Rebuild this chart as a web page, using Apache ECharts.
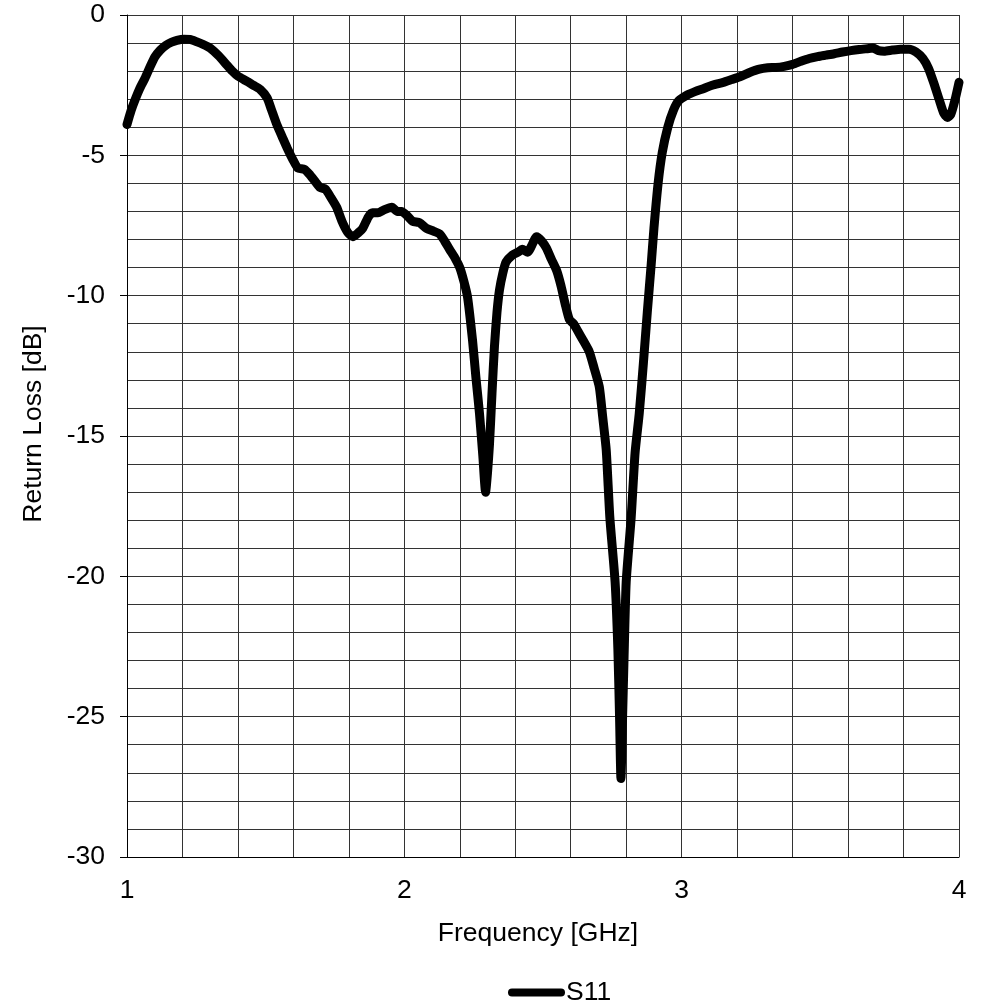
<!DOCTYPE html>
<html>
<head>
<meta charset="utf-8">
<script src="https://cdn.jsdelivr.net/npm/echarts@6/dist/echarts.min.js"></script>
<style>
html,body{margin:0;padding:0;background:#fff;}
#chart{width:987px;height:1006px;}
</style>
</head>
<body>
<div id="chart"></div>
<script>
const seriesName = 'S11';
const xAxisTitle = 'Frequency [GHz]';
const yAxisTitle = 'Return Loss [dB]';

const freqGHz = [
1.000,1.015,1.030,1.047,1.065,1.083,1.100,1.120,1.140,1.160,1.180,1.205,1.227,1.250,1.275,1.300,1.330,1.360,1.380,1.400,
1.430,1.455,1.480,1.505,1.520,1.540,1.560,1.578,1.598,1.616,1.640,1.660,1.680,1.697,1.715,1.735,1.756,1.775,1.796,1.814,
1.835,1.850,1.870,1.885,1.905,1.925,1.955,1.975,1.990,2.010,2.030,2.055,2.080,2.105,2.127,2.145,2.163,2.185,2.200,2.215,
2.228,2.246,2.258,2.271,2.283,2.293,2.300,2.307,2.316,2.325,2.334,2.343,2.355,2.367,2.390,2.410,2.425,2.445,2.460,2.477,
2.495,2.512,2.530,2.549,2.565,2.580,2.595,2.610,2.625,2.645,2.667,2.685,2.703,2.715,2.728,2.741,2.760,2.770,2.776,2.781,
2.787,2.792,2.800,2.818,2.832,2.847,2.862,2.876,2.890,2.900,2.915,2.930,2.950,2.970,2.990,3.020,3.050,3.080,3.110,3.150,
3.180,3.210,3.245,3.280,3.310,3.340,3.370,3.400,3.430,3.460,3.490,3.520,3.550,3.580,3.610,3.640,3.670,3.690,3.710,3.730,
3.760,3.790,3.820,3.845,3.870,3.890,3.910,3.928,3.945,3.958,3.970,3.985,4.000
];
const returnLossDB = [
-3.9,-3.4,-3.0,-2.6,-2.25,-1.85,-1.5,-1.25,-1.08,-0.97,-0.9,-0.86,-0.87,-0.95,-1.05,-1.18,-1.45,-1.78,-2.0,-2.18,
-2.35,-2.5,-2.65,-2.95,-3.35,-3.9,-4.35,-4.75,-5.15,-5.45,-5.5,-5.7,-5.95,-6.15,-6.2,-6.5,-6.85,-7.35,-7.75,-7.9,
-7.75,-7.6,-7.2,-7.05,-7.05,-6.95,-6.85,-7.0,-7.0,-7.15,-7.35,-7.4,-7.6,-7.7,-7.8,-8.05,-8.35,-8.7,-9.0,-9.5,
-10.05,-11.6,-12.9,-14.2,-15.7,-17.0,-16.3,-15.3,-13.5,-11.8,-10.6,-9.8,-9.2,-8.8,-8.55,-8.45,-8.35,-8.45,-8.2,-7.9,
-8.05,-8.3,-8.7,-9.1,-9.65,-10.3,-10.85,-11.0,-11.25,-11.6,-12.0,-12.6,-13.25,-14.3,-15.5,-17.9,-20.2,-22.6,-25.0,-27.2,
-25.0,-23.0,-20.2,-17.9,-15.6,-14.2,-12.4,-10.6,-8.9,-7.6,-6.0,-4.9,-4.0,-3.4,-3.05,-2.85,-2.72,-2.62,-2.5,-2.4,
-2.3,-2.2,-2.05,-1.93,-1.88,-1.87,-1.83,-1.76,-1.65,-1.55,-1.48,-1.43,-1.38,-1.32,-1.27,-1.23,-1.2,-1.18,-1.27,-1.29,
-1.25,-1.22,-1.22,-1.32,-1.55,-1.9,-2.45,-3.0,-3.5,-3.65,-3.55,-3.05,-2.4
];

const seriesData = freqGHz.map((f, i) => [f, returnLossDB[i]]);

const font = "'Liberation Sans', Arial, sans-serif";
const gridColor = '#333';
const fs = 26.5;

const chart = echarts.init(document.getElementById('chart'), null, {renderer: 'canvas'});
chart.setOption({
  backgroundColor: '#fff',
  animation: false,
  textStyle: {fontFamily: font},
  grid: {left: 127, right: 28, top: 15, bottom: 149, containLabel: false},
  legend: {
    data: [seriesName],
    left: 508, top: 979, padding: 0,
    itemWidth: 57, itemHeight: 8,
    icon: 'path://M4,0 L53,0 A4,4 0 0 1 53,8 L4,8 A4,4 0 0 1 4,0 Z',
    itemStyle: {color: '#000', borderWidth: 0},
    textStyle: {fontFamily: font, fontSize: fs, color: '#000', padding: [0,0,0,-4]}
  },
  xAxis: {
    type: 'value', min: 1, max: 4, interval: 1,
    name: xAxisTitle, nameLocation: 'middle', nameGap: 63,
    nameTextStyle: {fontFamily: font, fontSize: fs, color: '#000', padding: [0,10,0,0]},
    axisLine: {show: true, onZero: false, lineStyle: {color: '#000', width: 1}},
    axisTick: {show: false},
    axisLabel: {fontFamily: font, fontSize: fs, color: '#000', margin: 20},
    splitLine: {show: true, lineStyle: {color: gridColor, width: 1}},
    minorTick: {show: false, splitNumber: 5},
    minorSplitLine: {show: true, lineStyle: {color: gridColor, width: 1}}
  },
  yAxis: {
    type: 'value', min: -30, max: 0, interval: 5,
    name: yAxisTitle, nameLocation: 'middle', nameGap: 80, nameRotate: 90,
    nameTextStyle: {fontFamily: font, fontSize: fs, color: '#000', padding: [0,0,0,24]},
    axisLine: {show: true, onZero: false, lineStyle: {color: '#000', width: 1}},
    axisTick: {show: true, length: 7, lineStyle: {color: '#000', width: 1}},
    axisLabel: {fontFamily: font, fontSize: fs, color: '#000', margin: 22},
    splitLine: {show: true, lineStyle: {color: gridColor, width: 1}},
    minorTick: {show: false, splitNumber: 5},
    minorSplitLine: {show: true, lineStyle: {color: gridColor, width: 1}}
  },
  series: [{
    name: seriesName,
    type: 'line',
    data: seriesData,
    symbol: 'none',
    smooth: 0.2,
    clip: true,
    itemStyle: {color: '#000'},
    lineStyle: {color: '#000', width: 9, cap: 'round', join: 'round'}
  }]
});
</script>
</body>
</html>
